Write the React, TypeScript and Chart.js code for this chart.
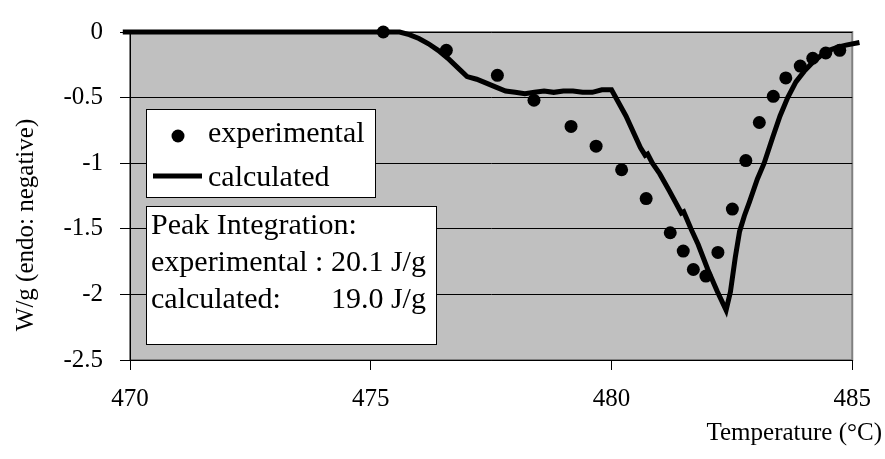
import React, { useEffect, useRef } from "react";
import { Chart, registerables } from "chart.js";

Chart.register(...registerables);

// ---- data ----
const calcT = [
  469.85, 475.0, 475.6, 475.8, 476.0, 476.2, 476.4, 476.6, 476.8, 477.0, 477.2, 477.4,
  477.6, 477.8, 478.0, 478.2, 478.4, 478.6, 478.8, 479.0, 479.2, 479.4, 479.6, 479.8,
  480.0, 480.3, 480.6, 480.7, 480.75, 480.85, 481.0, 481.2, 481.45, 481.5, 481.65,
  481.8, 482.0, 482.2, 482.38, 482.47, 482.57, 482.66, 482.76, 482.86, 483.03, 483.17,
  483.35, 483.5, 483.66, 483.83, 484.0, 484.18, 484.35, 484.52, 484.7, 484.87, 485.15,
];
const calcW = [
  0, 0, 0, -0.02, -0.05, -0.09, -0.14, -0.2, -0.27, -0.34, -0.36, -0.39,
  -0.42, -0.45, -0.46, -0.47, -0.46, -0.45, -0.46, -0.45, -0.45, -0.46, -0.46, -0.44,
  -0.44, -0.64, -0.88, -0.94, -0.93, -1.0, -1.08, -1.21, -1.38, -1.37, -1.5,
  -1.62, -1.81, -1.98, -2.12, -1.98, -1.72, -1.52, -1.4, -1.3, -1.12, -1.0,
  -0.8, -0.64, -0.5, -0.38, -0.3, -0.23, -0.18, -0.14, -0.115, -0.1, -0.08,
];
const expT = [
  475.26, 476.57, 477.63, 478.39, 479.16, 479.68, 480.21, 480.72, 481.22, 481.49, 481.7,
  481.96, 482.21, 482.51, 482.79, 483.07, 483.36, 483.62, 483.92, 484.18, 484.45, 484.74,
];
const expW = [
  0.0, -0.14, -0.33, -0.52, -0.72, -0.87, -1.05, -1.27, -1.53, -1.67, -1.81,
  -1.86, -1.68, -1.35, -0.98, -0.69, -0.49, -0.35, -0.26, -0.2, -0.16, -0.14,
];
const xTicks = [470, 475, 480, 485];
const yTicks = [0, -0.5, -1, -1.5, -2, -2.5];
const seriesNames = ["experimental", "calculated"];
const xTitle = "Temperature (°C)";
const yTitle = "W/g (endo: negative)";
const noteRows: [string, string][] = [
  ["Peak Integration:", ""],
  ["experimental : ", "20.1 J/g"],
  ["calculated:", "19.0 J/g"],
];

const FONT = "'Liberation Serif', 'Times New Roman', serif";

const decorPlugin = {
  id: "decor",
  beforeDraw(chart: any) {
    const { ctx, chartArea: a } = chart;
    ctx.save();
    ctx.fillStyle = "#c0c0c0";
    ctx.fillRect(a.left, a.top, a.right - a.left, a.bottom - a.top);
    ctx.strokeStyle = "#808080";
    ctx.lineWidth = 2;
    ctx.strokeRect(a.left, a.top, a.right - a.left, a.bottom - a.top);
    ctx.restore();
  },
  afterDraw(chart: any) {
    const { ctx, chartArea: a } = chart;
    ctx.save();
    // legend box
    const lx = a.left + 16, ly = a.top + 77, lw = 229, lh = 88;
    ctx.fillStyle = "#ffffff";
    ctx.fillRect(lx, ly, lw, lh);
    ctx.strokeStyle = "#000000";
    ctx.lineWidth = 1;
    ctx.strokeRect(lx + 0.5, ly + 0.5, lw, lh);
    ctx.fillStyle = "#000";
    ctx.beginPath();
    ctx.arc(lx + 32, ly + 27, 6.5, 0, Math.PI * 2);
    ctx.fill();
    ctx.lineWidth = 5;
    ctx.beginPath();
    ctx.moveTo(lx + 7, ly + 67);
    ctx.lineTo(lx + 56, ly + 67);
    ctx.stroke();
    ctx.font = `30px ${FONT}`;
    ctx.textBaseline = "alphabetic";
    ctx.textAlign = "left";
    ctx.fillText(seriesNames[0], lx + 62, ly + 33);
    ctx.fillText(seriesNames[1], lx + 62, ly + 77);

    // annotation box
    const bx = a.left + 16, by = a.top + 174, bw = 290, bh = 138;
    ctx.fillStyle = "#ffffff";
    ctx.fillRect(bx, by, bw, bh);
    ctx.lineWidth = 1;
    ctx.strokeStyle = "#000";
    ctx.strokeRect(bx + 0.5, by + 0.5, bw, bh);
    ctx.fillStyle = "#000";
    const col2 = bx + 5 + ctx.measureText(noteRows[1][0]).width;
    noteRows.forEach((r, i) => {
      const y = by + 28 + i * 37;
      ctx.fillText(r[0], bx + 5, y);
      if (r[1]) ctx.fillText(r[1], col2, y);
    });

    // axis titles
    ctx.font = `25px ${FONT}`;
    ctx.textAlign = "right";
    ctx.fillText(xTitle, 882, 440);
    ctx.translate(26, 225);
    ctx.rotate(-Math.PI / 2);
    ctx.textAlign = "center";
    ctx.textBaseline = "middle";
    ctx.fillText(yTitle, 0, 0);
    ctx.restore();
  },
};

export default function App() {
  const ref = useRef<HTMLCanvasElement | null>(null);
  useEffect(() => {
    if (!ref.current) return;
    const chart = new Chart(ref.current, {
      type: "scatter",
      data: {
        datasets: [
          {
            label: seriesNames[0],
            data: expT.map((t, i) => ({ x: t, y: expW[i] })),
            showLine: false,
            pointRadius: 6.5,
            pointBackgroundColor: "#000",
            pointBorderWidth: 0,
            clip: 10,
          },
          {
            label: seriesNames[1],
            data: calcT.map((t, i) => ({ x: t, y: calcW[i] })),
            showLine: true,
            borderColor: "#000",
            borderWidth: 5,
            pointRadius: 0,
            tension: 0,
            clip: 10,
          },
        ],
      },
      options: {
        animation: false,
        responsive: false,
        devicePixelRatio: 1,
        layout: { padding: { top: 26, right: 32, bottom: 0, left: 0 } },
        plugins: { legend: { display: false }, tooltip: { enabled: false } },
        scales: {
          x: {
            type: "linear",
            min: xTicks[0],
            max: xTicks[xTicks.length - 1],
            afterBuildTicks: (s: any) => {
              s.ticks = xTicks.map((v) => ({ value: v }));
            },
            afterFit: (s: any) => {
              s.height = 99;
            },
            grid: { drawOnChartArea: false, drawTicks: true, tickLength: 10, color: "#000", lineWidth: 1 },
            border: { display: true, color: "#000", width: 1 },
            ticks: {
              color: "#000",
              font: { family: FONT, size: 25 },
              padding: 14,
              maxRotation: 0,
              callback: (v: any) => String(v),
            },
          },
          y: {
            type: "linear",
            min: yTicks[yTicks.length - 1],
            max: yTicks[0],
            afterBuildTicks: (s: any) => {
              s.ticks = yTicks.map((v) => ({ value: v }));
            },
            afterFit: (s: any) => {
              s.width = 130;
            },
            grid: { drawTicks: true, tickLength: 10, color: "#000", lineWidth: 1 },
            border: { display: true, color: "#000", width: 1 },
            ticks: {
              color: "#000",
              font: { family: FONT, size: 25 },
              padding: 17,
              callback: (v: any) => String(v),
            },
          },
        },
      },
      plugins: [decorPlugin],
    });
    return () => chart.destroy();
  }, []);
  return (
    <div style={{ position: "absolute", left: 0, top: 0, width: 885, height: 459, background: "#fff" }}>
      <canvas ref={ref} width={885} height={459} style={{ display: "block" }} />
    </div>
  );
}
